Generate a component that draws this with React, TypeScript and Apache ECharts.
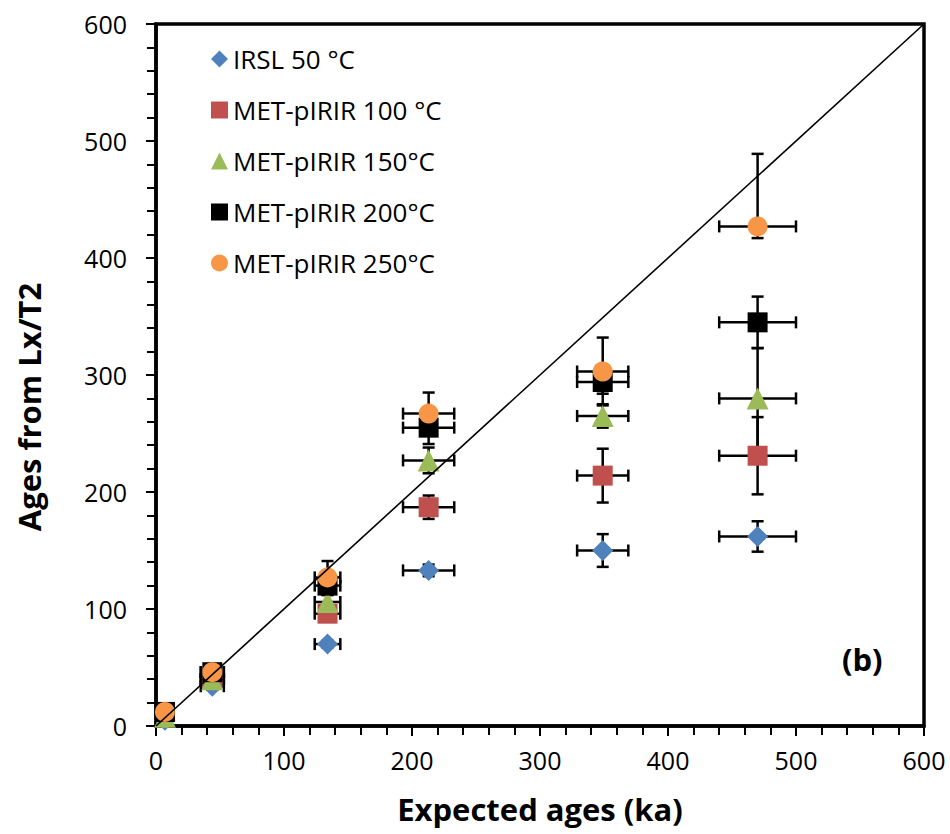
import { useEffect, useRef } from 'react';
import * as echarts from 'echarts';

// Expected ages (ka) and their x errors
const expectedAges = [7, 44, 134, 213, 349, 470];
const expectedErr = [5, 9, 10, 20, 20, 30];

const seriesNames = ['IRSL 50 °C', 'MET-pIRIR 100 °C', 'MET-pIRIR 150°C', 'MET-pIRIR 200°C', 'MET-pIRIR 250°C'];
const seriesColors = ['#4F81BD', '#C0504D', '#9BBB59', '#000000', '#F79646'];
const seriesSymbols = ['diamond', 'rect', 'triangle', 'rect', 'circle'];
const seriesSymbolSizes = [21, 20, 22, 20, 20];

const irsl50 = [5, 34, 70, 133, 150, 162];
const irsl50ErrPlus = [2, 3, 3, 5, 14, 13];
const irsl50ErrMinus = [2, 3, 3, 5, 14, 13];

const met100 = [12, 40, 96, 187, 214, 231];
const met100ErrPlus = [3, 4, 5, 10, 23, 33];
const met100ErrMinus = [3, 4, 5, 10, 23, 33];

const met150 = [8, 40, 106, 227, 265, 280];
const met150ErrPlus = [2, 4, 6, 11, 10, 43];
const met150ErrMinus = [2, 4, 6, 11, 10, 43];

const met200 = [12, 46, 120, 255, 294, 345];
const met200ErrPlus = [3, 5, 8, 14, 10, 22];
const met200ErrMinus = [3, 5, 8, 14, 10, 22];

const met250 = [12, 46, 127, 267, 303, 427];
const met250ErrPlus = [3, 5, 14, 18, 29, 62];
const met250ErrMinus = [3, 5, 14, 18, 29, 10];

const xTicks = { min: 0, max: 600, interval: 100 };
const yTicks = { min: 0, max: 600, interval: 100 };

const xTitle = 'Expected ages (ka)';
const yTitle = 'Ages from Lx/T2';
const panelLabel = '(b)';

const FONT = 'Open Sans';

export default function App() {
  const ref = useRef<HTMLDivElement>(null);

  useEffect(() => {
    document.body.style.margin = '0';
    if (!ref.current) return;
    const chart = echarts.init(ref.current, null, { renderer: 'svg' });

    const values = [irsl50, met100, met150, met200, met250];
    const plus = [irsl50ErrPlus, met100ErrPlus, met150ErrPlus, met200ErrPlus, met250ErrPlus];
    const minus = [irsl50ErrMinus, met100ErrMinus, met150ErrMinus, met200ErrMinus, met250ErrMinus];

    const series: any[] = [];
    values.forEach((vals, si) => {
      series.push({
        type: 'custom',
        name: 'err' + si,
        z: 2,
        silent: true,
        encode: { x: 0, y: 1 },
        data: vals.map((v, i) => [expectedAges[i], v, minus[si][i], plus[si][i], expectedErr[i]]),
        renderItem: (params: any, api: any) => {
          const x = api.value(0);
          const y = api.value(1);
          const ym = api.value(2);
          const yp = api.value(3);
          const xe = api.value(4);
          const c = api.coord([x, y]);
          const top = api.coord([x, y + yp]);
          const bot = api.coord([x, y - ym]);
          const l = api.coord([x - xe, y]);
          const r = api.coord([x + xe, y]);
          const cap = 6;
          const st = { stroke: '#000', lineWidth: 2.5 };
          const ln = (x1: number, y1: number, x2: number, y2: number) => ({
            type: 'line',
            shape: { x1, y1, x2, y2 },
            style: st,
          });
          return {
            type: 'group',
            children: [
              ln(c[0], top[1], c[0], bot[1]),
              ln(c[0] - cap, top[1], c[0] + cap, top[1]),
              ln(c[0] - cap, bot[1], c[0] + cap, bot[1]),
              ln(l[0], c[1], r[0], c[1]),
              ln(l[0], c[1] - cap, l[0], c[1] + cap),
              ln(r[0], c[1] - cap, r[0], c[1] + cap),
            ],
          };
        },
      });
    });
    values.forEach((vals, si) => {
      series.push({
        type: 'scatter',
        name: seriesNames[si],
        z: 3,
        symbol: seriesSymbols[si],
        symbolSize: seriesSymbolSizes[si],
        itemStyle: { color: seriesColors[si], opacity: 1 },
        data: vals.map((v, i) => [expectedAges[i], v]),
      });
    });
    series.push({
      type: 'line',
      name: '1:1',
      z: 5,
      symbol: 'none',
      silent: true,
      lineStyle: { color: '#000', width: 1.6 },
      data: [[xTicks.min, yTicks.min], [xTicks.max, yTicks.max]],
    });

    const axisCommon = {
      type: 'value',
      axisLine: { show: true, lineStyle: { color: '#000', width: 3.5 } },
      axisTick: { show: true, inside: false, length: 10, lineStyle: { color: '#000', width: 2 } },
      minorTick: { show: true, splitNumber: 5, length: 9, lineStyle: { color: '#000', width: 2 } },
      splitLine: { show: false },
      minorSplitLine: { show: false },
    };

    chart.setOption({
      animation: false,
      backgroundColor: '#fff',
      grid: {
        left: 156,
        right: 26,
        top: 24,
        bottom: 108,
        show: true,
        borderColor: '#000',
        borderWidth: 3.5,
        containLabel: false,
      },
      legend: {
        data: seriesNames,
        orient: 'vertical',
        left: 206,
        top: 41,
        itemWidth: 17,
        itemHeight: 17,
        itemGap: 25,
        textStyle: { fontFamily: FONT, fontSize: 26, color: '#000', lineHeight: 25 },
      },
      xAxis: {
        ...axisCommon,
        min: xTicks.min,
        max: xTicks.max,
        interval: xTicks.interval,
        axisLabel: { color: '#000', fontFamily: FONT, fontSize: 25, margin: 21 },
        name: xTitle,
        nameLocation: 'middle',
        nameGap: 67,
        nameTextStyle: { color: '#000', fontFamily: FONT, fontSize: 31, fontWeight: 'bold' },
      },
      yAxis: {
        ...axisCommon,
        min: yTicks.min,
        max: yTicks.max,
        interval: yTicks.interval,
        axisLabel: { color: '#000', fontFamily: FONT, fontSize: 25, margin: 29 },
      },
      graphic: [
        {
          type: 'text',
          x: 29,
          y: 407,
          rotation: Math.PI / 2,
          style: {
            text: yTitle,
            fontFamily: FONT,
            fontSize: 31,
            fontWeight: 'bold',
            fill: '#000',
            align: 'center',
            verticalAlign: 'middle',
          },
        },
        {
          type: 'text',
          left: 842,
          top: 643,
          style: { text: panelLabel, fontFamily: FONT, fontSize: 31, fontWeight: 'bold', fill: '#000' },
        },
      ],
      series,
    });

    return () => chart.dispose();
  }, []);

  return <div ref={ref} style={{ width: 950, height: 834 }} />;
}
